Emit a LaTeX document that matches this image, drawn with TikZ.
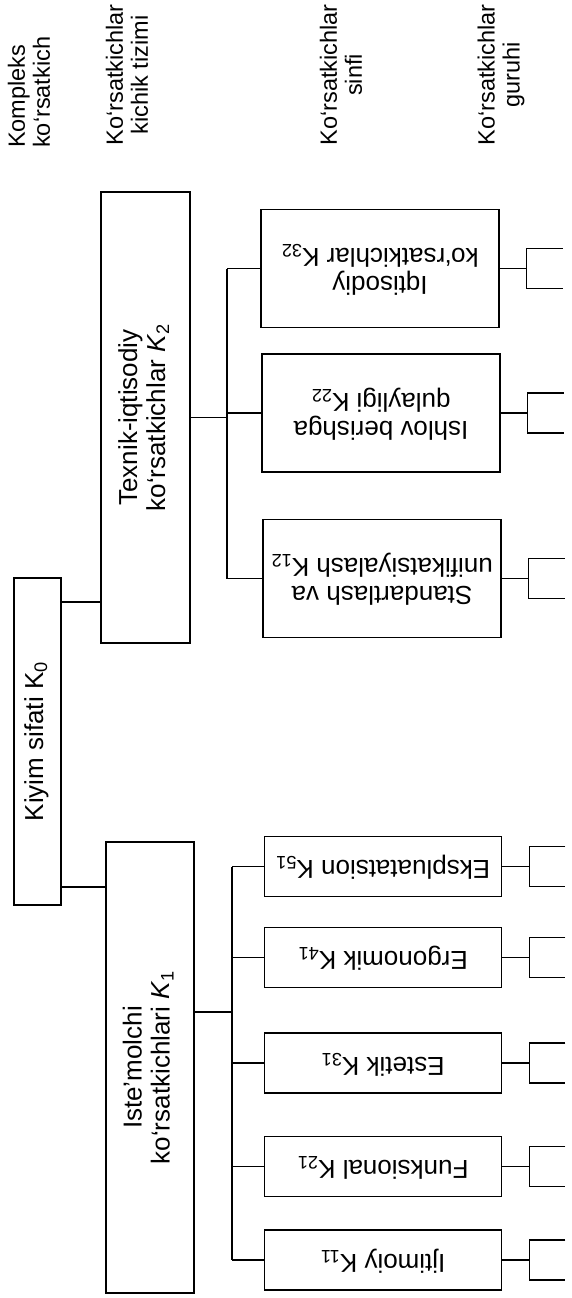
\documentclass[tikz,border=0pt]{standalone}
\usepackage{fontspec}
\setmainfont{Liberation Sans}
\usepackage{graphicx}
\newcommand{\vlabel}[1]{\rotatebox{90}{\begin{tabular}{@{}c@{}}#1\end{tabular}}}
\newcommand{\flabel}[1]{\rotatebox{180}{\begin{tabular}{@{}c@{}}#1\end{tabular}}}
\begin{document}
\begin{tikzpicture}[x=1pt,y=-1pt,
  box/.style={draw,line width=1.6pt,inner sep=0pt,font=\fontsize{26}{28}\selectfont},
  head/.style={rotate=90,inner sep=0pt,font=\fontsize{23.5}{25}\selectfont},
  link/.style={line width=1.2pt}]
   \useasboundingbox (0,0) rectangle (571,1298);
   % headers
   \node[head,align=left,anchor=west] (hkomp) at (29,148) {Kompleks\\ko‘rsatkich};
   \node[head,align=center] (htizim) at (127,75) {Ko‘rsatkichlar\\kichik tizimi};
   \node[head,align=center] (hsinf) at (341,75) {Ko‘rsatkichlar\\sinfi};
   \node[head,align=center] (hguruh) at (501,75) {Ko‘rsatkichlar\\guruhi};
  %
   \node[box,minimum width=47,minimum height=327] (K0) at (37.5,741.5) {\vlabel{Kiyim sifati K\textsubscript{0}}};
   \node[box,minimum width=89,minimum height=451] (K2) at (145.5,417.5) {\vlabel{Texnik-iqtisodiy\\ko‘rsatkichlar \textit{K}\textsubscript{2}}};
   \node[box,minimum width=88,minimum height=451] (K1) at (150,1067.5) {\vlabel{Iste’molchi\\ko‘rsatkichlari \textit{K}\textsubscript{1}}};
  %
   \node[box,minimum width=238,minimum height=118] (K32) at (380,268.5) {\flabel{Iqtisodiy\\ko‘rsatkichlar K\textsubscript{32}}};
   \node[box,minimum width=238,minimum height=118] (K22) at (381,413) {\flabel{Ishlov berishga\\qulayligi K\textsubscript{22}}};
   \node[box,minimum width=238,minimum height=118] (K12) at (382,578.5) {\flabel{Standartlash va\\unifikatsiyalash K\textsubscript{12}}};
  %
   \node[box,minimum width=237,minimum height=60] (K51) at (383,866.5) {\flabel{Ekspluatatsion K\textsubscript{51}}};
   \node[box,minimum width=237,minimum height=60] (K41) at (383,957.5) {\flabel{Ergonomik K\textsubscript{41}}};
   \node[box,minimum width=237,minimum height=60] (K31) at (383,1063) {\flabel{Estetik K\textsubscript{31}}};
   \node[box,minimum width=237,minimum height=60] (K21) at (383,1166.5) {\flabel{Funksional K\textsubscript{21}}};
   \node[box,minimum width=237,minimum height=60] (K11) at (383,1260) {\flabel{Ijtimoiy K\textsubscript{11}}};
  %
   \coordinate (l2) at (0,602);
   \coordinate (l1) at (0,887);
   \draw[link] (K0.east |- l2) -- (K2.west |- l2);
   \draw[link] (K0.east |- l1) -- (K1.west |- l1);
  %
   \coordinate (b2) at (227,417.5);
   \draw[link] (K2.east) -- (b2);
   \draw[link] (b2 |- K32.west) -- (b2 |- K12.west);
   \foreach \k in {K32,K22,K12}
     \draw[link] (b2 |- \k.west) -- (\k.west);
  %
   \coordinate (b1) at (232,1012);
   \draw[link] (K1.east |- b1) -- (b1);
   \draw[link] (b1 |- K51.west) -- (b1 |- K11.west);
   \foreach \k in {K51,K41,K31,K21,K11}
     \draw[link] (b1 |- \k.west) -- (\k.west);
  %
   \foreach \k in {K32,K22,K12,K51,K41,K31,K21,K11}
     \draw[link] (\k.east) -- ++(27,0) ++(36,-20) -- ++(-36,0) -- ++(0,40) -- ++(36,0);
\end{tikzpicture}
\end{document}
